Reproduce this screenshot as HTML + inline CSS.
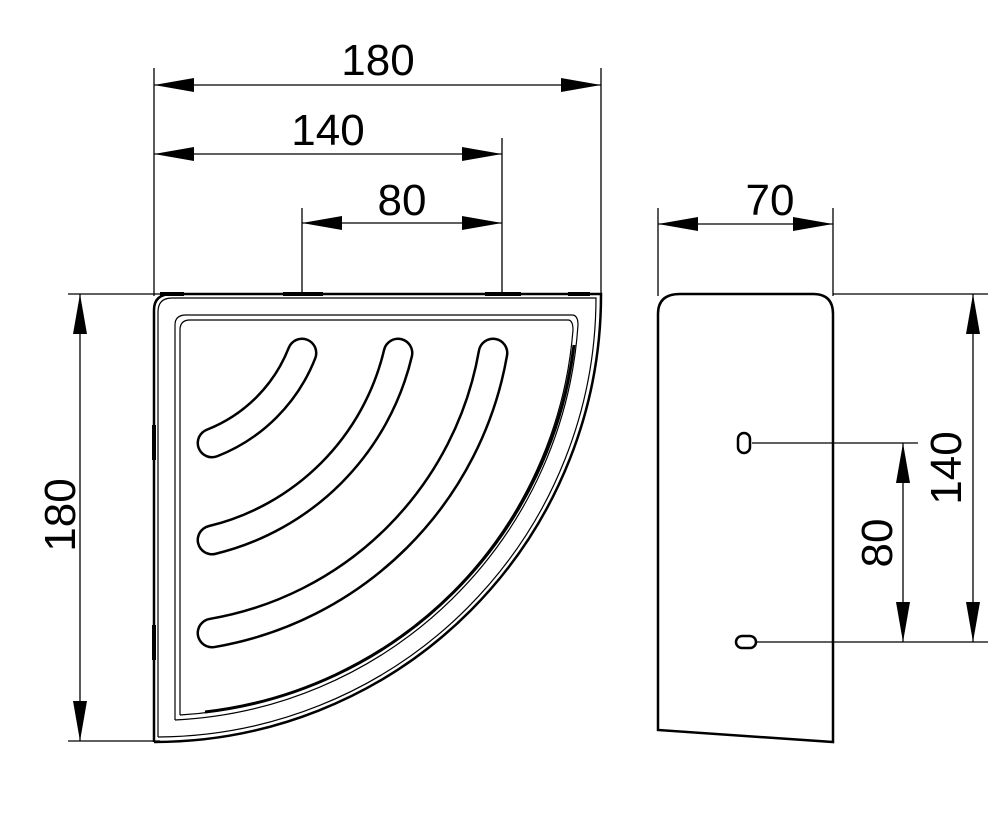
<!DOCTYPE html>
<html><head><style>html,body{margin:0;padding:0;background:#fff}svg{display:block}</style></head>
<body>
<svg width="996" height="828" viewBox="0 0 996 828" xmlns="http://www.w3.org/2000/svg">
<defs>
<marker id="a" markerWidth="40" markerHeight="14" refX="40" refY="7" orient="auto-start-reverse" markerUnits="userSpaceOnUse">
<path d="M0,0 L40,7 L0,14 Z" fill="#000"/>
</marker>
</defs>
<g stroke="#000" stroke-width="1.3" fill="none">
<!-- extension lines left view -->
<line x1="154" y1="68" x2="154" y2="296"/>
<line x1="601" y1="68" x2="601" y2="296"/>
<line x1="502" y1="138" x2="502" y2="296"/>
<line x1="302" y1="208" x2="302" y2="296"/>
<line x1="68" y1="294" x2="160" y2="294"/>
<line x1="68" y1="741" x2="160" y2="741"/>
<!-- dims -->
<line x1="154" y1="85" x2="601" y2="85" marker-start="url(#a)" marker-end="url(#a)"/>
<line x1="154" y1="154" x2="502" y2="154" marker-start="url(#a)" marker-end="url(#a)"/>
<line x1="302" y1="223" x2="502" y2="223" marker-start="url(#a)" marker-end="url(#a)"/>
<line x1="80" y1="294" x2="80" y2="741" marker-start="url(#a)" marker-end="url(#a)"/>
<!-- right view ext -->
<line x1="658" y1="208" x2="658" y2="296"/>
<line x1="833" y1="208" x2="833" y2="296"/>
<line x1="833" y1="294" x2="988" y2="294"/>
<line x1="752" y1="443" x2="918" y2="443"/>
<line x1="755" y1="642" x2="988" y2="642"/>
<line x1="658" y1="224" x2="833" y2="224" marker-start="url(#a)" marker-end="url(#a)"/>
<line x1="973" y1="294" x2="973" y2="642" marker-start="url(#a)" marker-end="url(#a)"/>
<line x1="903" y1="443" x2="903" y2="642" marker-start="url(#a)" marker-end="url(#a)"/>
</g>
<g font-family="Liberation Sans, sans-serif" font-size="44" fill="#000" text-anchor="middle">
<text x="378" y="75">180</text>
<text x="328" y="145">140</text>
<text x="402" y="215">80</text>
<text x="770" y="215">70</text>
<text transform="translate(75,515) rotate(-90)">180</text>
<text transform="translate(961,468) rotate(-90)">140</text>
<text transform="translate(892,543) rotate(-90)">80</text>
</g>
<!-- left view tray -->
<g stroke="#000" fill="none">
<path d="M154,742 L154,310 Q154,294 172,294 L601,294 A447,447 0 0 1 154,742" stroke-width="2.5"/>
<path d="M158,737 L158,312 Q158,298 172,298 L596,298 A440,440 0 0 1 158,737" stroke-width="1.2"/>
<path d="M175,720 L175,325 Q175,315 186,315 L572,315 Q578,315 578,325 A424,424 0 0 1 175,720" stroke-width="1.2"/>
<path d="M180,715 L180,330 Q180,320 190,320 L568,320 Q573,320 573,330 A419,419 0 0 1 180,715" stroke-width="1.2"/>
<path d="M574,345 A420,420 0 0 1 205,712" stroke-width="3"/>
<!-- slots -->
<path d="M212,443 A159,159 0 0 0 302,353" stroke-width="31" stroke-linecap="round"/>
<path d="M212,540 A252,252 0 0 0 398,353" stroke-width="31" stroke-linecap="round"/>
<path d="M212,633 A344,344 0 0 0 493,353" stroke-width="31" stroke-linecap="round"/>
</g>
<g stroke="#fff" fill="none" stroke-linecap="round" stroke-width="26">
<path d="M212,443 A159,159 0 0 0 302,353"/>
<path d="M212,540 A252,252 0 0 0 398,353"/>
<path d="M212,633 A344,344 0 0 0 493,353"/>
</g>
<!-- tabs -->
<g fill="#000">
<rect x="283" y="292" width="40" height="4"/>
<rect x="485" y="292" width="36" height="4"/>
<rect x="568" y="292" width="22" height="4"/>
<rect x="160" y="292" width="24" height="4"/>
<rect x="152" y="425" width="4" height="35"/>
<rect x="152" y="625" width="4" height="35"/>
</g>
<!-- right view -->
<path d="M658,730 L658,314 Q658,294 680,294 L813,294 Q833,294 833,314 L833,742 Z" fill="none" stroke="#000" stroke-width="2.5"/>
<rect x="738" y="433" width="12" height="20" rx="6" fill="#fff" stroke="#000" stroke-width="2.5"/>
<rect x="736" y="636" width="20" height="12" rx="6" fill="#fff" stroke="#000" stroke-width="2.5"/>
</svg>
</body></html>
